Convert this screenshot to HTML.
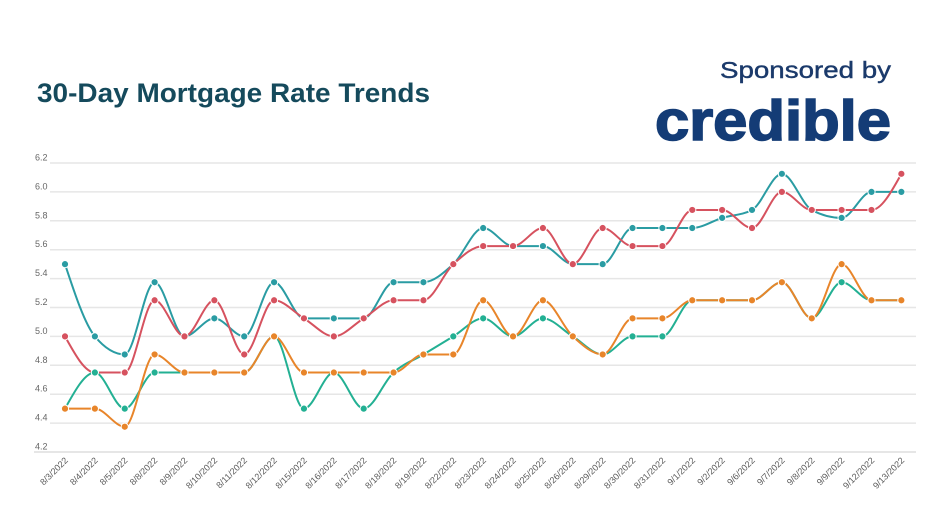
<!DOCTYPE html>
<html>
<head>
<meta charset="utf-8">
<style>
  html,body{margin:0;padding:0;background:#fff;}
  svg{display:block;}
  .yl{font-family:"Liberation Sans",sans-serif;font-size:9px;fill:#666;}
  .xl{font-family:"Liberation Sans",sans-serif;font-size:9px;fill:#5a5a5a;}
</style>
</head>
<body>
<svg id="chart" width="932" height="524" viewBox="0 0 932 524" xmlns="http://www.w3.org/2000/svg">
  <rect width="932" height="524" fill="#fff"/>
  <text x="37" y="102" font-family="Liberation Sans, sans-serif" font-weight="bold" font-size="27" fill="#154a5c" textLength="393" lengthAdjust="spacingAndGlyphs">30-Day Mortgage Rate Trends</text>
  <text x="720" y="78" font-family="Liberation Sans, sans-serif" font-size="23" fill="#1b3a6b" stroke="#1b3a6b" stroke-width="0.4" textLength="171" lengthAdjust="spacingAndGlyphs">Sponsored by</text>
  <text x="655" y="140" font-family="Liberation Sans, sans-serif" font-weight="bold" font-size="57" fill="#143c76" stroke="#143c76" stroke-width="1.6" textLength="236" lengthAdjust="spacingAndGlyphs">credible</text>

  <g id="grid" stroke="#e6e6e6" stroke-width="1.5">
    <line x1="50" y1="163" x2="916" y2="163"/>
    <line x1="50" y1="191.9" x2="916" y2="191.9"/>
    <line x1="50" y1="220.8" x2="916" y2="220.8"/>
    <line x1="50" y1="249.7" x2="916" y2="249.7"/>
    <line x1="50" y1="278.6" x2="916" y2="278.6"/>
    <line x1="50" y1="307.5" x2="916" y2="307.5"/>
    <line x1="50" y1="336.4" x2="916" y2="336.4"/>
    <line x1="50" y1="365.3" x2="916" y2="365.3"/>
    <line x1="50" y1="394.2" x2="916" y2="394.2"/>
    <line x1="50" y1="423.1" x2="916" y2="423.1"/>
    <line x1="34" y1="452" x2="916" y2="452" stroke="#dedede"/>
  </g>
  <g>
    <text class="yl" x="35" y="160.5">6.2</text>
    <text class="yl" x="35" y="189.4">6.0</text>
    <text class="yl" x="35" y="218.3">5.8</text>
    <text class="yl" x="35" y="247.2">5.6</text>
    <text class="yl" x="35" y="276.1">5.4</text>
    <text class="yl" x="35" y="305">5.2</text>
    <text class="yl" x="35" y="333.9">5.0</text>
    <text class="yl" x="35" y="362.8">4.8</text>
    <text class="yl" x="35" y="391.7">4.6</text>
    <text class="yl" x="35" y="420.6">4.4</text>
    <text class="yl" x="35" y="449.5">4.2</text>
  </g>
  <g id="xlabels">
    <text class="xl" text-anchor="end" transform="translate(68.5,461) rotate(-45)">8/3/2022</text>
    <text class="xl" text-anchor="end" transform="translate(98.4,461) rotate(-45)">8/4/2022</text>
    <text class="xl" text-anchor="end" transform="translate(128.2,461) rotate(-45)">8/5/2022</text>
    <text class="xl" text-anchor="end" transform="translate(158.1,461) rotate(-45)">8/8/2022</text>
    <text class="xl" text-anchor="end" transform="translate(188,461) rotate(-45)">8/9/2022</text>
    <text class="xl" text-anchor="end" transform="translate(217.9,461) rotate(-45)">8/10/2022</text>
    <text class="xl" text-anchor="end" transform="translate(247.7,461) rotate(-45)">8/11/2022</text>
    <text class="xl" text-anchor="end" transform="translate(277.6,461) rotate(-45)">8/12/2022</text>
    <text class="xl" text-anchor="end" transform="translate(307.5,461) rotate(-45)">8/15/2022</text>
    <text class="xl" text-anchor="end" transform="translate(337.3,461) rotate(-45)">8/16/2022</text>
    <text class="xl" text-anchor="end" transform="translate(367.2,461) rotate(-45)">8/17/2022</text>
    <text class="xl" text-anchor="end" transform="translate(397.1,461) rotate(-45)">8/18/2022</text>
    <text class="xl" text-anchor="end" transform="translate(426.9,461) rotate(-45)">8/19/2022</text>
    <text class="xl" text-anchor="end" transform="translate(456.8,461) rotate(-45)">8/22/2022</text>
    <text class="xl" text-anchor="end" transform="translate(486.7,461) rotate(-45)">8/23/2022</text>
    <text class="xl" text-anchor="end" transform="translate(516.6,461) rotate(-45)">8/24/2022</text>
    <text class="xl" text-anchor="end" transform="translate(546.4,461) rotate(-45)">8/25/2022</text>
    <text class="xl" text-anchor="end" transform="translate(576.3,461) rotate(-45)">8/26/2022</text>
    <text class="xl" text-anchor="end" transform="translate(606.2,461) rotate(-45)">8/29/2022</text>
    <text class="xl" text-anchor="end" transform="translate(636,461) rotate(-45)">8/30/2022</text>
    <text class="xl" text-anchor="end" transform="translate(665.9,461) rotate(-45)">8/31/2022</text>
    <text class="xl" text-anchor="end" transform="translate(695.8,461) rotate(-45)">9/1/2022</text>
    <text class="xl" text-anchor="end" transform="translate(725.6,461) rotate(-45)">9/2/2022</text>
    <text class="xl" text-anchor="end" transform="translate(755.5,461) rotate(-45)">9/6/2022</text>
    <text class="xl" text-anchor="end" transform="translate(785.4,461) rotate(-45)">9/7/2022</text>
    <text class="xl" text-anchor="end" transform="translate(815.3,461) rotate(-45)">9/8/2022</text>
    <text class="xl" text-anchor="end" transform="translate(845.1,461) rotate(-45)">9/9/2022</text>
    <text class="xl" text-anchor="end" transform="translate(875,461) rotate(-45)">9/12/2022</text>
    <text class="xl" text-anchor="end" transform="translate(904.9,461) rotate(-45)">9/13/2022</text>
  </g>
  <g id="series"></g>
</svg>
<script>
(function(){
  var NS="http://www.w3.org/2000/svg";
  function X(i){return 65+i*29.87;}
  function Y(v){return 452-(v-4.2)*144.5;}
  var data=[
    {c:"#2a9ca3",v:[5.5,5.0,4.875,5.375,5.0,5.125,5.0,5.375,5.125,5.125,5.125,5.375,5.375,5.5,5.75,5.625,5.625,5.5,5.5,5.75,5.75,5.75,5.82,5.875,6.125,5.875,5.82,6.0,6.0]},
    {c:"#d6525f",v:[5.0,4.75,4.75,5.25,5.0,5.25,4.875,5.25,5.125,5.0,5.125,5.25,5.25,5.5,5.625,5.625,5.75,5.5,5.75,5.625,5.625,5.875,5.875,5.75,6.0,5.875,5.875,5.875,6.125]},
    {c:"#23b093",v:[4.5,4.75,4.5,4.75,4.75,4.75,4.75,5.0,4.5,4.75,4.5,4.75,4.875,5.0,5.125,5.0,5.125,5.0,4.875,5.0,5.0,5.25,5.25,5.25,5.375,5.125,5.375,5.25,5.25]},
    {c:"#e8852a",v:[4.5,4.5,4.375,4.875,4.75,4.75,4.75,5.0,4.75,4.75,4.75,4.75,4.875,4.875,5.25,5.0,5.25,5.0,4.875,5.125,5.125,5.25,5.25,5.25,5.375,5.125,5.5,5.25,5.25]}
  ];
  function sign(a){return a<0?-1:1;}
  var g=document.getElementById("series");
  data.forEach(function(s){
    var n=s.v.length, xs=[], ys=[], i;
    for(i=0;i<n;i++){xs.push(X(i));ys.push(Y(s.v[i]));}
    var m=new Array(n);
    for(i=1;i<n-1;i++){
      var h0=xs[i]-xs[i-1],h1=xs[i+1]-xs[i];
      var s0=(ys[i]-ys[i-1])/h0,s1=(ys[i+1]-ys[i])/h1;
      var p=(s0*h1+s1*h0)/(h0+h1);
      var t=(sign(s0)+sign(s1))*Math.min(Math.abs(s0),Math.abs(s1),0.5*Math.abs(p));
      m[i]=isFinite(t)?t:0;
    }
    var sA=(ys[1]-ys[0])/(xs[1]-xs[0]);
    m[0]=(3*sA-m[1])/2;
    var sB=(ys[n-1]-ys[n-2])/(xs[n-1]-xs[n-2]);
    m[n-1]=(3*sB-m[n-2])/2;
    var d="M"+xs[0]+","+ys[0];
    for(i=0;i<n-1;i++){
      var dx=(xs[i+1]-xs[i])/3;
      d+="C"+(xs[i]+dx)+","+(ys[i]+dx*m[i])+","+(xs[i+1]-dx)+","+(ys[i+1]-dx*m[i+1])+","+xs[i+1]+","+ys[i+1];
    }
    var path=document.createElementNS(NS,"path");
    path.setAttribute("d",d);
    path.setAttribute("fill","none");
    path.setAttribute("stroke",s.c);
    path.setAttribute("stroke-width","2");
    g.appendChild(path);
    for(i=0;i<n;i++){
      var c=document.createElementNS(NS,"circle");
      c.setAttribute("cx",xs[i]);c.setAttribute("cy",ys[i]);c.setAttribute("r","3.6");
      c.setAttribute("fill",s.c);c.setAttribute("stroke","#fff");c.setAttribute("stroke-width","1");
      g.appendChild(c);
    }
  });
})();
</script>
</body>
</html>
